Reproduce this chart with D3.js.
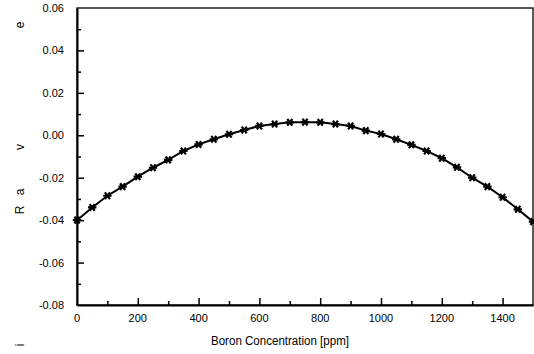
<!DOCTYPE html>
<html><head><meta charset="utf-8">
<script src="https://cdn.jsdelivr.net/npm/d3@7"></script>
<style>body{margin:0;background:#fff}svg{display:block}text{font-family:"Liberation Sans",Arial,sans-serif;fill:#000}</style>
</head><body><svg id="c" width="534" height="354"></svg>
<script>
const boron = [0,50,100,150,200,250,300,350,400,450,500,550,600,650,700,750,800,850,900,950,1000,1050,1100,1150,1200,1250,1300,1350,1400,1450,1500];
const reactivity = [-0.0400,-0.0340,-0.0285,-0.0242,-0.0195,-0.0153,-0.0116,-0.0074,-0.0043,-0.0019,0.0005,0.0025,0.0044,0.0053,0.0061,0.0062,0.0061,0.0053,0.0044,0.0022,0.0006,-0.0019,-0.0045,-0.0074,-0.0108,-0.0151,-0.0200,-0.0242,-0.0292,-0.0349,-0.0407];
const xTicks = [0,200,400,600,800,1000,1200,1400];
const yTicks = [-0.08,-0.06,-0.04,-0.02,0.00,0.02,0.04,0.06];
const xTitle = "Boron Concentration [ppm]";
const yTitleLetters = [{ch:"e",y:25},{ch:"v",y:147},{ch:"a",y:192},{ch:"R",y:210},{ch:"i",y:345}];

const svg = d3.select("#c");
const L=77, R=533, T=8, B=305;
const x = d3.scaleLinear().domain([0,1500]).range([L,R]);
const y = d3.scaleLinear().domain([-0.08,0.06]).range([B,T]);

svg.append("rect").attr("x",L).attr("y",T).attr("width",R-L).attr("height",B-T)
  .attr("fill","none").attr("stroke","#000").attr("stroke-width",1.3);

const gx = svg.append("g").attr("transform",`translate(0,${B})`)
  .call(d3.axisBottom(x).tickValues(d3.range(0,1501,100)).tickSizeOuter(0).tickFormat(""));
gx.selectAll(".tick line").attr("y2",d=>d%200===0?-7:-4).attr("stroke-width",1.5);
gx.select(".domain").attr("stroke-width",2);
gx.selectAll(".tick").filter(d=>d===0||d===1500).remove();
svg.append("g").selectAll("text").data(xTicks).join("text")
  .attr("x",d=>x(d)).attr("y",322).attr("text-anchor","middle").attr("font-size",11).text(d=>d);

const gy = svg.append("g").attr("transform",`translate(${L},0)`)
  .call(d3.axisLeft(y).tickValues(d3.range(-8,7,1).map(v=>v/100)).tickSizeOuter(0).tickFormat(""));
gy.selectAll(".tick line").attr("x2",(d)=>Math.round(d*100)%2===0?7:4).attr("stroke-width",1.5);
gy.select(".domain").attr("stroke-width",2);
gy.selectAll(".tick").filter(d=>Math.abs(d+0.08)<1e-9||Math.abs(d-0.06)<1e-9).remove();
svg.append("g").selectAll("text").data(yTicks).join("text")
  .attr("x",64).attr("y",d=>y(d)+4).attr("text-anchor","end").attr("font-size",11).text(d=>d.toFixed(2));

svg.append("text").attr("x",280).attr("y",345).attr("text-anchor","middle").attr("font-size",12)
  .attr("textLength",138).attr("lengthAdjust","spacingAndGlyphs").text(xTitle);
svg.append("g").selectAll("text").data(yTitleLetters).join("text")
  .attr("transform",d=>`translate(24,${d.y}) rotate(-90)`).attr("text-anchor","middle").attr("font-size",12).text(d=>d.ch);

const pts = boron.map((b,i)=>[b,reactivity[i]]);
svg.append("path").datum(pts).attr("fill","none").attr("stroke","#000").attr("stroke-width",2)
  .attr("d",d3.line().x(d=>x(d[0])).y(d=>y(d[1])));

const r=4.2;
const star = `M${-r},0L${r},0M${-r*0.6},${-r*0.8}L${r*0.6},${r*0.8}M${-r*0.6},${r*0.8}L${r*0.6},${-r*0.8}`;
svg.append("g").selectAll("path").data(pts).join("path")
  .attr("transform",d=>`translate(${x(d[0])},${y(d[1])})`)
  .attr("d",star).attr("stroke","#000").attr("stroke-width",2.2).attr("fill","none");
</script></body></html>
